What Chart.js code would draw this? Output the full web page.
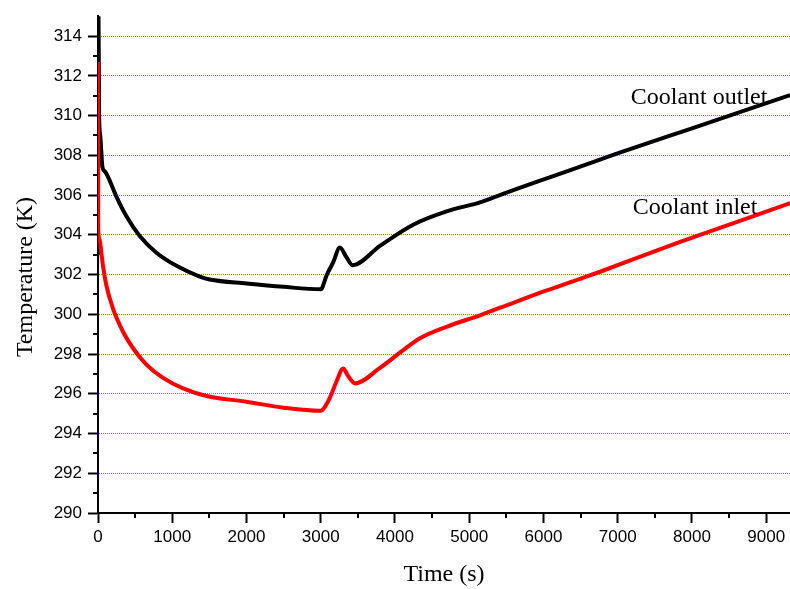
<!DOCTYPE html>
<html>
<head>
<meta charset="utf-8">
<script src="https://cdn.jsdelivr.net/npm/chart.js@4.4.0/dist/chart.umd.min.js"></script>
<style>
  body { margin: 0; background: #fff; }
  #wrap { width: 790px; height: 589px; position: relative; }
</style>
</head>
<body>
<div id="wrap"><canvas id="coolant"></canvas></div>
<script>
// Coolant outlet (black)
const outletTime = [0, 4, 15, 30, 60, 90, 135, 248, 383, 562, 787, 1057, 1371, 1505, 2000, 2500, 3000,
  3011, 3078, 3167, 3257, 3348, 3430, 3797, 4245, 4695, 5144, 5593, 6043, 6761, 6987, 8000, 9322];
const outletTemp = [303.0, 316.5, 310.0, 309.0, 307.4, 307.2, 306.92, 305.92, 304.93, 303.94, 303.1, 302.44, 301.9, 301.75, 301.55, 301.38, 301.26,
  301.28, 301.95, 302.61, 303.36, 302.86, 302.47, 303.44, 304.51, 305.18, 305.63, 306.25, 306.84, 307.78, 308.08, 309.36, 311.03];

// Coolant inlet (red)
const inletTime = [0, 3, 20, 45, 67, 113, 202, 337, 472, 652, 876, 1146, 1461, 2000, 2500, 2997,
  3123, 3213, 3302, 3369, 3460, 3797, 4089, 4336, 4695, 5144, 5593, 6043, 6492, 6761, 7840, 9322];
const inletTemp = [312.7, 304.3, 303.8, 303.1, 302.44, 301.45, 300.28, 299.12, 298.29, 297.47, 296.8, 296.27, 295.89, 295.6, 295.3, 295.14,
  295.8, 296.63, 297.27, 296.89, 296.52, 297.3, 298.13, 298.79, 299.37, 299.95, 300.58, 301.2, 301.78, 302.14, 303.64, 305.59];

// curve labels, placed in data units (left edge, baseline)
const curveLabels = [
  { text: "Coolant outlet", t: 7175, temp: 310.6 },
  { text: "Coolant inlet", t: 7202, temp: 305.04 }
];

const timeTicks = [0, 1000, 2000, 3000, 4000, 5000, 6000, 7000, 8000, 9000];
const minorTimeTicks = [500, 1500, 2500, 3500, 4500, 5500, 6500, 7500, 8500];
const minorTempTicks = [291, 293, 295, 297, 299, 301, 303, 305, 307, 309, 311, 313];

let toPoints = function(xs, ys) {
  return xs.map((x, i) => ({ x: x, y: ys[i] }));
};

const serif = "'Liberation Serif', 'Times New Roman', serif";
const sans = "'Liberation Sans', Arial, sans-serif";

// short minor ticks, y title and curve labels
const extras = {
  id: "extras",
  afterDraw: function(chart) {
    let ctx = chart.ctx;
    let xs = chart.scales.x, ys = chart.scales.y;
    let area = chart.chartArea;
    ctx.save();
    ctx.strokeStyle = "#000";
    ctx.lineWidth = 2;
    ctx.beginPath();
    for (let v of minorTempTicks) {
      let py = Math.round(ys.getPixelForValue(v));
      ctx.moveTo(area.left - 5, py);
      ctx.lineTo(area.left, py);
    }
    for (let v of minorTimeTicks) {
      let px = Math.round(xs.getPixelForValue(v));
      ctx.moveTo(px, area.bottom);
      ctx.lineTo(px, area.bottom + 5);
    }
    ctx.stroke();

    ctx.fillStyle = "#000";
    ctx.font = "24px " + serif;
    ctx.textBaseline = "alphabetic";
    ctx.textAlign = "left";
    for (let lab of curveLabels) {
      ctx.fillText(lab.text, xs.getPixelForValue(lab.t), ys.getPixelForValue(lab.temp));
    }

    ctx.translate(32, 277);
    ctx.rotate(-Math.PI / 2);
    ctx.textAlign = "center";
    ctx.fillText("Temperature (K)", 0, 0);
    ctx.restore();
  }
};

new Chart("coolant", {
  type: "scatter",
  data: {
    datasets: [
      {
        label: "Coolant outlet",
        data: toPoints(outletTime, outletTemp),
        showLine: true,
        borderColor: "#000",
        backgroundColor: "#000",
        borderWidth: 4,
        pointRadius: 0,
        order: 1,
        cubicInterpolationMode: "monotone"
      },
      {
        label: "Coolant inlet",
        data: toPoints(inletTime, inletTemp),
        showLine: true,
        borderColor: "#ff0000",
        backgroundColor: "#ff0000",
        borderWidth: 4,
        pointRadius: 0,
        order: 0,
        cubicInterpolationMode: "monotone"
      }
    ]
  },
  options: {
    responsive: true,
    maintainAspectRatio: false,
    animation: false,
    layout: { padding: { top: 10, right: 0, left: 0, bottom: 0 } },
    plugins: { legend: { display: false }, tooltip: { enabled: false } },
    scales: {
      x: {
        type: "linear",
        min: 0,
        max: 9320,
        afterFit: function(scale) { scale.height = 76; },
        afterBuildTicks: function(scale) {
          scale.ticks = timeTicks.map(v => ({ value: v }));
        },
        ticks: {
          color: "#000",
          padding: 4,
          maxRotation: 0,
          autoSkip: false,
          font: { family: sans, size: 17 },
          callback: function(v) { return String(v); }
        },
        grid: {
          drawOnChartArea: false,
          tickLength: 10,
          tickColor: "#000",
          tickWidth: 2
        },
        border: { color: "#000", width: 2 },
        title: {
          display: true,
          text: "Time (s)",
          color: "#000",
          font: { family: serif, size: 24 },
          padding: { top: 0, bottom: 0 }
        }
      },
      y: {
        min: 290,
        max: 315,
        afterFit: function(scale) { scale.width = 98; },
        ticks: {
          stepSize: 2,
          includeBounds: false,
          color: "#000",
          padding: 6,
          font: { family: sans, size: 17 }
        },
        grid: {
          color: function(c) { return (c.tick && c.tick.value === 290) ? "rgba(0,0,0,0)" : "#8a8a10"; },
          lineWidth: 1,
          tickLength: 10,
          tickColor: "#000",
          tickWidth: 2
        },
        border: { color: "#000", width: 2, dash: [1, 1] }
      }
    }
  },
  plugins: [extras]
});
</script>
</body>
</html>
